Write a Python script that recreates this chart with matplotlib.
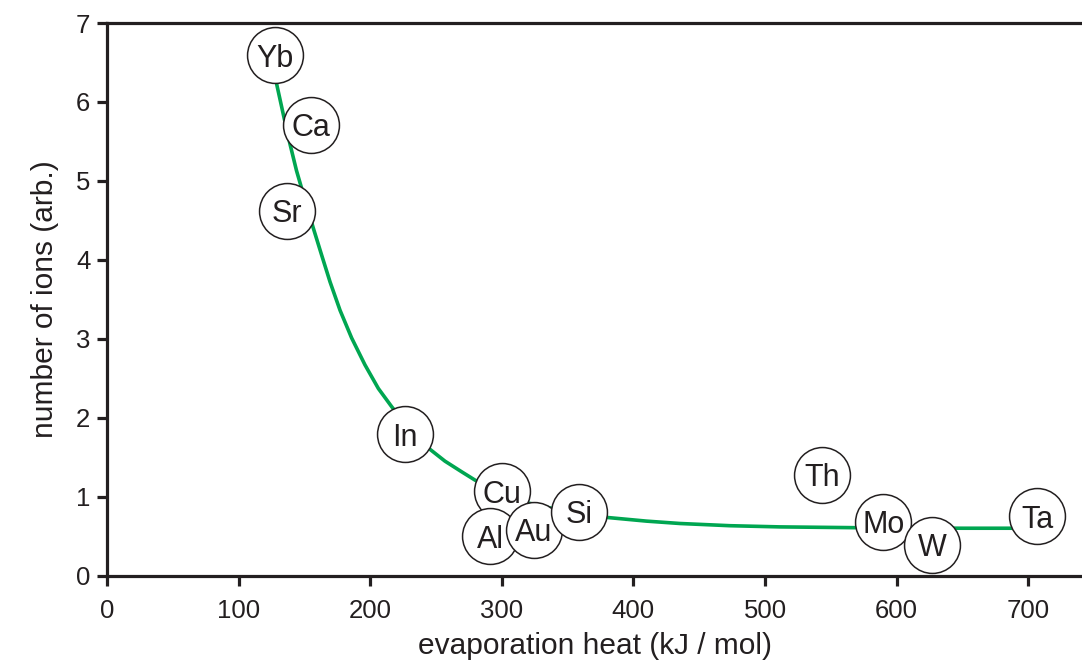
import matplotlib
matplotlib.use("Agg")
import matplotlib.pyplot as plt

# elements: evaporation heat (kJ/mol) vs. number of ions (arb.)
elements = ["Yb", "Ca", "Sr", "In", "Cu", "Al", "Au", "Si", "Th", "Mo", "W", "Ta"]
heat = [127.7, 154.9, 136.8, 226.4, 300.2, 291.0, 324.4, 358.7, 543.5, 590.0, 627.2, 706.8]
ions = [6.59, 5.71, 4.62, 1.79, 1.07, 0.50, 0.58, 0.81, 1.275, 0.68, 0.39, 0.75]

# trend line, points
trend_x = [127.5, 129, 134, 139, 144, 148, 152, 156.8, 163.1, 169.5, 177.1, 185.9,
           196, 206.2, 216.3, 226, 236, 245.4, 256.8, 269.5, 279.6, 292, 305,
           320, 340, 360, 381, 410, 435.4, 473.4, 511.4, 568.4, 610, 650, 686.2,
           706.8]
trend_y = [6.59, 6.22, 5.84, 5.47, 5.13, 4.90, 4.67, 4.40, 4.06, 3.72, 3.36, 3.01,
           2.67, 2.37, 2.14, 1.94, 1.76, 1.60, 1.45, 1.315, 1.21, 1.10, 1.01,
           0.92, 0.845, 0.785, 0.735, 0.69, 0.66, 0.632, 0.617, 0.607, 0.603, 0.60,
           0.60, 0.60]

ink = "#231f20"
green = "#00a651"

plt.rcParams["font.family"] = ["Liberation Sans", "DejaVu Sans"]

fig = plt.figure(figsize=(10.82, 6.70), dpi=100)
ax = fig.add_axes([107 / 1082, 1 - 575.6 / 670, 1 - 107 / 1082, (575.6 - 23) / 670])

ax.plot(trend_x, trend_y, color=green, lw=2.6, zorder=2, solid_capstyle="butt",
        solid_joinstyle="round")
ax.scatter(heat, ions, s=1620, facecolor="white", edgecolor=ink, linewidth=1.1, zorder=3)
for name, x, y in zip(elements, heat, ions):
    ax.text(x, y, name, ha="center", va="center_baseline", fontsize=22, color=ink, zorder=4)

ax.set_xlim(0, (1082 - 107) / 1.316)
ax.set_ylim(0, 7)
ax.set_xticks(range(0, 701, 100))
ax.set_yticks(range(0, 8))

for side in ["left", "bottom", "top"]:
    ax.spines[side].set_linewidth(2.3)
    ax.spines[side].set_color(ink)
ax.spines["right"].set_visible(False)
ax.tick_params(axis="both", direction="out", length=7, width=2.3, color=ink,
               labelsize=18.5, labelcolor=ink)
ax.tick_params(axis="x", pad=10)
ax.tick_params(axis="y", pad=5)

ax.set_xlabel("evaporation heat (kJ / mol)", fontsize=21.5, color=ink, labelpad=6)
ax.set_ylabel("number of ions (arb.)", fontsize=21.5, color=ink, labelpad=12)

fig.savefig("out.png", dpi=100)
